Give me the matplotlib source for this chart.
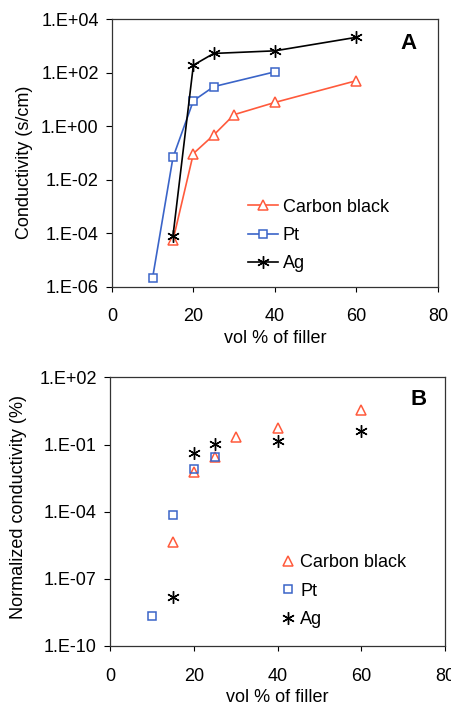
import matplotlib.pyplot as plt
from matplotlib.ticker import FuncFormatter
import numpy as np

plt.rcParams['font.family'] = ['Liberation Sans', 'DejaVu Sans']

# panel A : conductivity (s/cm)
cb_x = [15, 20, 25, 30, 40, 60]
cb_y = [5.5e-5, 0.095, 0.47, 2.7, 7.7, 50]
pt_x = [10, 15, 20, 25, 40]
pt_y = [2.2e-6, 0.068, 8.9, 30, 107]
ag_x = [15, 20, 25, 40, 60]
ag_y = [8.1e-5, 190, 520, 650, 2080]

# panel B : normalized conductivity (%)
cb_norm = [4.5e-6, 6e-3, 0.028, 0.21, 0.56, 3.5]
pt_norm = [2.2e-9, 6.8e-5, 8.5e-3, 0.028]
ag_norm = [1.6e-8, 0.04, 0.105, 0.14, 0.40]

ticks_a = [1e-6, 1e-4, 1e-2, 1e0, 1e2, 1e4]
ticks_b = [1e-10, 1e-7, 1e-4, 1e-1, 1e2]

RED = '#FF5A3C'
BLUE = '#3A64C8'
STAR = (6, 2, 0)
FS = 13

def sci(v, pos):
    e = int(round(np.log10(v)))
    return '1.E%+03d' % e

def style(ax, yticks):
    ax.set_yscale('log')
    ax.set_ylim(yticks[0], yticks[-1])
    ax.set_xlim(0, 80)
    ax.set_xticks([0, 20, 40, 60, 80])
    ax.set_yticks(yticks)
    ax.yaxis.set_minor_locator(plt.NullLocator())
    ax.yaxis.set_major_formatter(FuncFormatter(sci))
    ax.tick_params(axis='y', direction='out', length=4.5, width=0.8, pad=5, labelsize=FS)
    ax.tick_params(axis='x', direction='out', length=3.5, width=0.8, pad=12, labelsize=FS)
    for s in ax.spines.values():
        s.set_linewidth(0.9)
        s.set_color('#333333')
    ax.set_xlabel('vol % of filler', fontsize=FS, labelpad=3)

fig = plt.figure(figsize=(4.51, 7.05), dpi=100)

ax1 = fig.add_axes([0.248, 0.593, 0.723, 0.380])
ax1.plot(cb_x, cb_y, color=RED, lw=1.2, marker='^', ms=7.5, mfc='white', mec=RED, mew=1.1, label='Carbon black')
ax1.plot(pt_x, pt_y, color=BLUE, lw=1.2, marker='s', ms=5.5, mfc='white', mec=BLUE, mew=1.1, label='Pt')
ax1.plot(ag_x, ag_y, color='black', lw=1.2, marker=STAR, ms=9, mec='black', mew=1.0, label='Ag')
style(ax1, ticks_a)
ax1.set_ylabel('Conductivity (s/cm)', fontsize=FS)
ax1.yaxis.set_label_coords(-0.241, 0.466)
ax1.text(0.91, 0.91, 'A', transform=ax1.transAxes, fontsize=16, fontweight='bold', ha='center', va='center')
ax1.legend(loc='upper left', bbox_to_anchor=(0.417, 0.33), frameon=False, fontsize=FS,
           handlelength=1.66, handletextpad=0.28, labelspacing=0.63, borderpad=0, borderaxespad=0)

ax2 = fig.add_axes([0.244, 0.0837, 0.743, 0.381])
ax2.plot(cb_x, cb_norm, ls='none', marker='^', ms=7.5, mfc='none', mec=RED, mew=1.1, label='Carbon black')
ax2.plot(pt_x[:4], pt_norm, ls='none', marker='s', ms=5.5, mfc='none', mec=BLUE, mew=1.1, label='Pt')
ax2.plot(ag_x, ag_norm, ls='none', marker=STAR, ms=9, mec='black', mew=1.0, label='Ag')
style(ax2, ticks_b)
ax2.set_ylabel('Normalized conductivity (%)', fontsize=FS)
ax2.yaxis.set_label_coords(-0.249, 0.517)
ax2.text(0.92, 0.918, 'B', transform=ax2.transAxes, fontsize=16, fontweight='bold', ha='center', va='center')
ax2.legend(loc='upper left', bbox_to_anchor=(0.51, 0.342), frameon=False, fontsize=FS,
           handlelength=0.8, handletextpad=0.26, labelspacing=0.63, borderpad=0, borderaxespad=0)

fig.savefig('out.png', dpi=100)
